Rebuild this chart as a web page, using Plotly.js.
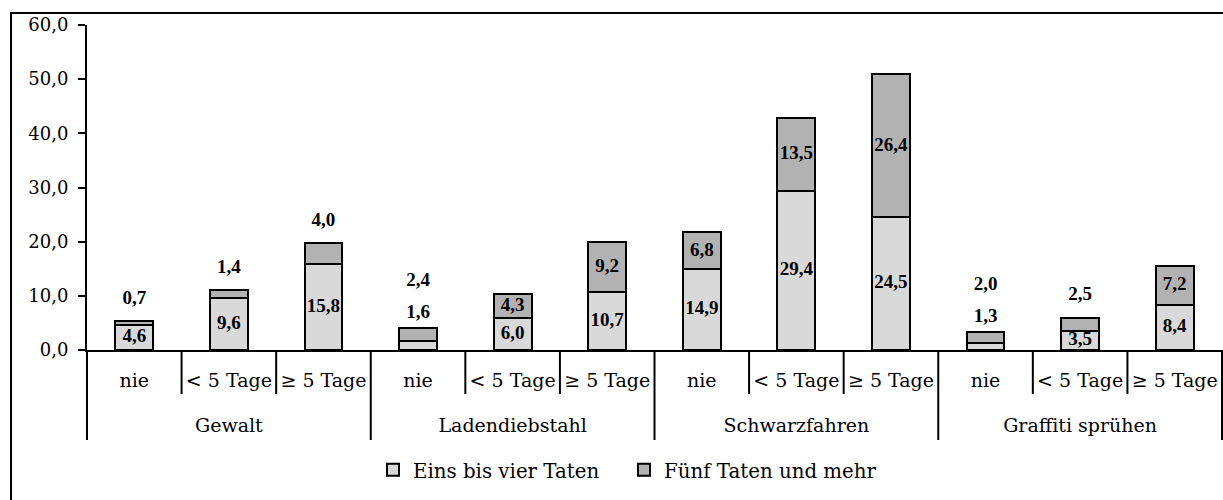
<!DOCTYPE html>
<html>
<head>
<meta charset="utf-8">
<script src="https://cdn.plot.ly/plotly-3.0.1.min.js"></script>
<style>
  html, body { margin: 0; padding: 0; background: #fff; }
  #wrap { position: relative; width: 1223px; height: 500px; overflow: hidden; }
  #frame { position: absolute; left: 10px; top: 12px; width: 1300px; height: 600px;
           border-left: 2px solid #000; border-top: 2px solid #000; box-sizing: border-box; }
  #chart { position: absolute; left: 0; top: 0; width: 1223px; height: 500px; }
</style>
</head>
<body>
<div id="wrap">
  <div id="frame"></div>
  <div id="chart"></div>
</div>
<script>
// ---- data ----
const groups = ["Gewalt", "Ladendiebstahl", "Schwarzfahren", "Graffiti sprühen"];
const subs = ["nie", "< 5 Tage", "≥ 5 Tage"];
const seriesNames = ["Eins bis vier Taten", "Fünf Taten und mehr"];
const einsBisVier = [4.6, 9.6, 15.8, 1.6, 6.0, 10.7, 14.9, 29.4, 24.5, 1.3, 3.5, 8.4];
const fuenfUndMehr = [0.7, 1.4, 4.0, 2.4, 4.3, 9.2, 6.8, 13.5, 26.4, 2.0, 2.5, 7.2];
const yTicks = [0, 10, 20, 30, 40, 50, 60];

// ---- layout constants ----
const W = 1223, H = 500;
const M = {l: 87, r: 1, t: 25, b: 150};
const plotW = W - M.l - M.r;
const plotH = H - M.t - M.b;
const yMax = 60;
const k = plotH / yMax; // px per unit

const nSub = subs.length;
const xSubText = [], xIdx = [];
groups.forEach((g, gi) => subs.forEach((s, si) => { xSubText.push(s); xIdx.push(gi * nSub + si); }));
const n = xIdx.length;
const groupCenters = groups.map((g, gi) => gi * nSub + (nSub - 1) / 2);
const xRange = [-0.5, n - 0.5];

const fmt = v => v.toFixed(1).replace('.', ',');

// label positions computed from values
const lblX = [], lblY = [], lblT = [];
einsBisVier.forEach((lo, i) => {
  const up = fuenfUndMehr[i];
  const top = lo + up;
  const loInside = lo * k >= 17;
  const upInside = up * k >= 22.5;
  lblX.push(xIdx[i], xIdx[i]);
  lblY.push(loInside ? lo / 2 : top + 15 / k);
  lblY.push(upInside ? lo + up / 2 : top + (loInside ? 22 : 47) / k);
  lblT.push(fmt(lo), fmt(up));
});

const barLine = {color: '#000', width: 2};
const legendPad = '\u2003'; // visual spacing between legend entries
const traces = [
  {type: 'bar', name: seriesNames[0] + legendPad, x: xIdx, y: einsBisVier,
   marker: {color: '#d9d9d9', line: barLine}, width: 0.4, hoverinfo: 'skip'},
  {type: 'bar', name: seriesNames[1], x: xIdx, y: fuenfUndMehr,
   marker: {color: '#b2b2b2', line: barLine}, width: 0.4, hoverinfo: 'skip'},
  {type: 'scatter', mode: 'text', x: lblX, y: lblY, text: lblT, xaxis: 'x2',
   textposition: 'middle center', showlegend: false, hoverinfo: 'skip', cliponaxis: false,
   textfont: {family: 'Liberation Serif', size: 19, color: '#000', weight: 'bold'}}
];

// divider shapes
const shapes = [];
for (let b = 0; b <= n; b++) {
  const isGroup = b % nSub === 0;
  shapes.push({type: 'line', xref: 'paper', yref: 'paper',
    x0: b / n, x1: b / n, y0: 0, y1: -(isGroup ? 90 : 44) / plotH,
    line: {color: '#000', width: 2}});
}

const layout = {
  width: W, height: H,
  margin: M,
  paper_bgcolor: 'rgba(0,0,0,0)',
  plot_bgcolor: 'rgba(0,0,0,0)',
  barmode: 'stack',
  separators: ',.',
  font: {family: 'DejaVu Serif', size: 19, color: '#000'},
  showlegend: true,
  legend: {orientation: 'h', x: (373 - M.l) / plotW, xanchor: 'left',
           y: (350 - 470) / plotH, yanchor: 'middle',
           font: {family: 'DejaVu Serif', size: 19.8}, traceorder: 'normal'},
  xaxis: {range: xRange, tickmode: 'array', tickvals: xIdx, ticktext: xSubText,
          showline: true, linecolor: '#000', linewidth: 2,
          ticks: 'outside', ticklen: 12, tickcolor: 'rgba(0,0,0,0)', tickangle: 0,
          showgrid: false, zeroline: false,
          tickfont: {family: 'DejaVu Serif', size: 19}},
  xaxis2: {range: xRange, overlaying: 'x', anchor: 'y', side: 'bottom',
          tickmode: 'array', tickvals: groupCenters, ticktext: groups,
          showline: false, ticks: 'outside', ticklen: 58, tickcolor: 'rgba(0,0,0,0)', tickangle: 0,
          showgrid: false, zeroline: false,
          tickfont: {family: 'DejaVu Serif', size: 19}},
  yaxis: {range: [0, yMax], tickvals: yTicks, tickformat: '.1f', showgrid: false,
          zeroline: false, showline: true, linecolor: '#000', linewidth: 2,
          ticks: 'outside', ticklen: 7, tickwidth: 2, tickcolor: '#000',
          ticklabelstandoff: 6,
          tickfont: {family: 'DejaVu Serif', size: 18}},
  shapes: shapes
};

Plotly.newPlot('chart', traces, layout, {staticPlot: true});
</script>
</body>
</html>
